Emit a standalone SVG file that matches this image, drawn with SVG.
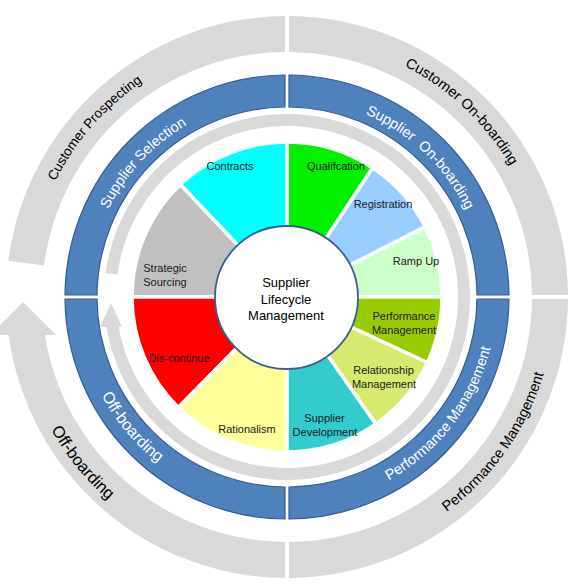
<svg xmlns="http://www.w3.org/2000/svg" xmlns:xlink="http://www.w3.org/1999/xlink" width="578" height="585" viewBox="0 0 578 585">
<style>
.gray{fill:#d9d9d9}
.blue{fill:#4f81bd;stroke:#385d8a;stroke-width:1.2}
.seg{stroke:#fff;stroke-width:3.5;stroke-linejoin:miter}
.lbl{font-family:"Liberation Sans",Arial,sans-serif;font-size:11px;fill:#1a1a1a;text-anchor:middle}
.ctr{font-family:"Liberation Sans",Arial,sans-serif;font-size:13px;fill:#000;text-anchor:middle}
.bt{font-family:"Liberation Sans",Arial,sans-serif;font-size:14.5px;fill:#fff;text-anchor:middle}
.ot{font-family:"Liberation Sans",Arial,sans-serif;font-size:14.5px;fill:#000;text-anchor:middle}
</style>
<defs>
<path id="pBT" d="M100,228.9 A199,199 0 0 1 474,228.9"/>
<path id="pBB" d="M90.1,368.7 A209.5,209.5 0 0 0 483.9,368.7"/>
<path id="pBB2" d="M89.7,368.8 A210,210 0 0 0 484.3,368.8"/>
<path id="pOT" d="M43.6,208.4 A259,259 0 0 1 530.4,208.4"/>
<path id="pOB" d="M35.2,388.7 A268,268 0 0 0 538.8,388.7"/>
<path id="pOB2" d="M32.8,389.5 A270.5,270.5 0 0 0 541.2,389.5"/>
</defs>

<g id="outer-ring">
<g id="customer-prospecting">
<path class="gray" d="M285,16 A281,281 0 0 0 8.3,260.8 L44,265.4 A245,245 0 0 1 285,52 Z"/>
<text class="ot" style="font-size:13.5px" transform="rotate(-48.7 287 297)"><textPath xlink:href="#pOT" href="#pOT" startOffset="50%">Customer Prospecting</textPath></text>
</g>
<g id="customer-onboarding">
<path class="gray" d="M289,16 A281,281 0 0 1 568,295 L532,295 A245,245 0 0 0 289,52 Z"/>
<text class="ot" transform="rotate(43.3 287 297)"><textPath xlink:href="#pOT" href="#pOT" startOffset="50%">Customer On-boarding</textPath></text>
</g>
<g id="performance-management-outer">
<path class="gray" d="M289,578 A281,281 0 0 0 568,299 L532,299 A245,245 0 0 1 289,542 Z"/>
<text class="ot" transform="rotate(-55 287 297)"><textPath xlink:href="#pOB" href="#pOB" startOffset="50%">Performance Management</textPath></text>
</g>
<g id="offboarding-outer">
<path class="gray" d="M285,578 A281,281 0 0 1 8.6,335 L-10,335 L23,302 L56,335 L45,335 A245,245 0 0 0 285,542 Z"/>
<text class="ot" style="font-size:16.5px" transform="rotate(51 287 297)"><textPath xlink:href="#pOB2" href="#pOB2" startOffset="50%">Off-boarding</textPath></text>
</g>
</g>

<g id="blue-ring">
<g id="supplier-selection">
<path class="blue" d="M285,75 A222,222 0 0 0 65,295 L97,295 A190,190 0 0 1 285,107 Z"/>
<text class="bt" transform="rotate(-47 287 297)"><textPath xlink:href="#pBT" href="#pBT" startOffset="50%">Supplier Selection</textPath></text>
</g>
<g id="supplier-onboarding">
<path class="blue" d="M289,75 A222,222 0 0 1 509,295 L477,295 A190,190 0 0 0 289,107 Z"/>
<text class="bt" transform="rotate(43.7 287 297)"><textPath xlink:href="#pBT" href="#pBT" startOffset="50%">Supplier&#160; On-boarding</textPath></text>
</g>
<g id="performance-management-blue">
<path class="blue" d="M289,519 A222,222 0 0 0 509,299 L477,299 A190,190 0 0 1 289,487 Z"/>
<text class="bt" transform="rotate(-52.5 287 297)"><textPath xlink:href="#pBB" href="#pBB" startOffset="50%">Performance Management</textPath></text>
</g>
<g id="offboarding-blue">
<path class="blue" d="M285,519 A222,222 0 0 1 65,299 L97,299 A190,190 0 0 0 285,487 Z"/>
<text class="bt" style="font-size:16px" transform="rotate(50 287 297)"><textPath xlink:href="#pBB2" href="#pBB2" startOffset="50%">Off-boarding</textPath></text>
</g>
</g>

<g id="connectors">
<path id="cycle-arrow" class="gray" d="M105.6,273.1 A183,183 0 1 1 106.5,327 L100,327 L111,303 L122,327 L118.7,327 A171,171 0 1 0 117.5,274.7 Z"/>
</g>

<g id="segments">
<g id="ramp-up"><path class="seg" fill="#ccffcc" d="M287,297 L442,297 A155,155 0 0 0 425.11,226.63 Z"/><text class="lbl" x="416" y="265">Ramp Up</text></g>
<g id="registration"><path class="seg" fill="#99ccff" d="M287,297 L425.11,226.63 A155,155 0 0 0 372.55,167.75 Z"/><text class="lbl" x="383" y="208">Registration</text></g>
<g id="qualification"><path class="seg" fill="#00f000" d="M287,297 L372.55,167.75 A155,155 0 0 0 287,142 Z"/><text class="lbl" x="336" y="170">Qualifcation</text></g>
<g id="contracts"><path class="seg" fill="#00ffff" d="M287,297 L287,142 A155,155 0 0 0 180.31,184.57 Z"/><text class="lbl" x="230" y="170">Contracts</text></g>
<g id="strategic-sourcing"><path class="seg" fill="#c0c0c0" d="M287,297 L180.31,184.57 A155,155 0 0 0 132,297 Z"/><text class="lbl" x="165" y="272">Strategic</text><text class="lbl" x="165" y="286">Sourcing</text></g>
<g id="discontinue"><path class="seg" fill="#ff0000" d="M287,297 L132,297 A155,155 0 0 0 178.36,407.55 Z"/><text class="lbl" x="179" y="362">Dis-continue</text></g>
<g id="rationalism"><path class="seg" fill="#ffff99" d="M287,297 L178.36,407.55 A155,155 0 0 0 287,452 Z"/><text class="lbl" x="247" y="433">Rationalism</text></g>
<g id="supplier-development"><path class="seg" fill="#33cccc" d="M287,297 L287,452 A155,155 0 0 0 375.9,423.97 Z"/><text class="lbl" x="324.5" y="422">Supplier</text><text class="lbl" x="325" y="436">Development</text></g>
<g id="relationship-management"><path class="seg" fill="#d7e96e" d="M287,297 L375.9,423.97 A155,155 0 0 0 427.48,362.51 Z"/><text class="lbl" x="383.5" y="374">Relationship</text><text class="lbl" x="384" y="388">Management</text></g>
<g id="performance-management"><path class="seg" fill="#99cc00" d="M287,297 L427.48,362.51 A155,155 0 0 0 442,297 Z"/><text class="lbl" x="404" y="320">Performance</text><text class="lbl" x="404" y="334">Management</text></g>
</g>

<g id="center">
<circle cx="286.5" cy="297.5" r="71.5" fill="#fff" stroke="#3a5f8f" stroke-width="1.8"/>
<text class="ctr" x="286" y="286.5">Supplier</text>
<text class="ctr" x="286" y="303.5">Lifecycle</text>
<text class="ctr" x="286" y="319.5">Management</text>
</g>
</svg>
